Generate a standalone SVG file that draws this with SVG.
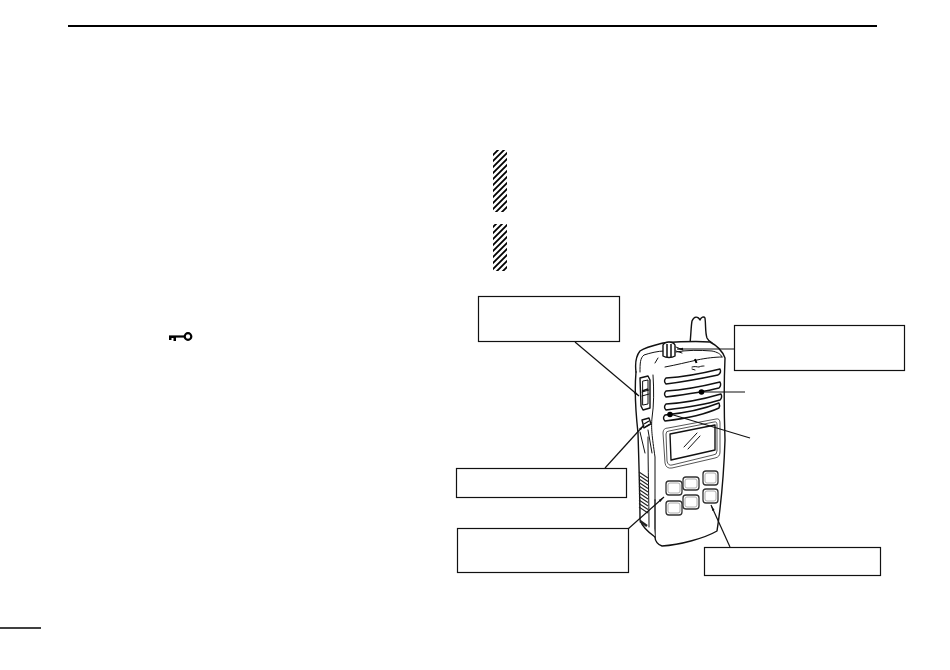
<svg xmlns="http://www.w3.org/2000/svg" width="950" height="670" viewBox="0 0 950 670">
<style>
.box{fill:#fff;stroke:#111;stroke-width:1.2}
.c{fill:none;stroke:#111;stroke-width:1.2}
.a{marker-end:url(#tip)}
.o{fill:#fff;stroke:#111;stroke-width:1.4;stroke-linejoin:round;stroke-linecap:round}
.t{fill:none;stroke:#111;stroke-width:1;stroke-linejoin:round;stroke-linecap:round}
.g{fill:none;stroke:#555;stroke-width:1;stroke-linejoin:round}
.k{fill:#fff;stroke:#333;stroke-width:1.300}
.k2{fill:none;stroke:#999;stroke-width:.8}
</style>
<defs>
<pattern id="hatch" width="6" height="6" patternUnits="userSpaceOnUse">
<path d="M-1.5 1.5L1.5 -1.5M0 6L6 0M4.5 7.5L7.5 4.5" stroke="#000" stroke-width="1.800"/>
</pattern>
<marker id="tip" markerUnits="userSpaceOnUse" markerWidth="7" markerHeight="4" refX="6" refY="2" orient="auto"><path d="M0 .8L6 2L0 3.200Z" fill="#111"/></marker>
</defs>
<rect width="950" height="670" fill="#fff"/>
<path d="M68 26H877" stroke="#000" stroke-width="2"/>
<path d="M0 628H41" stroke="#000" stroke-width="1.5"/>
<rect x="493" y="150" width="14" height="62" fill="url(#hatch)"/>
<rect x="493" y="224" width="14" height="47" fill="url(#hatch)"/>
<g id="key-icon">
<path d="M169 336.5H185" stroke="#000" stroke-width="2.200"/>
<path d="M169 336.5v3.500h2.500v-2h2v3h2.500v-4z" fill="#000"/>
<circle cx="188" cy="336.500" r="3.300" fill="#fff" stroke="#000" stroke-width="2.200"/>
</g>
<g id="radio">
<path class="o" d="M690 343C691 335 691 326 692 321C694 316 698 316 700 320C701 317 704 316 705 318C706 326 705 332 707 338C708 340 710 342 712 343Z"/>
<path class="o" d="M636 372C635 364 636 356 640 351C646 347 655 345 663 343C676 342 695 341 710 342C716 345 722 350 725 358C724 380 724 410 725 440C724 470 721 505 717 531C705 538 680 545 662 546C658 545 655 541 655 537V500"/>
<path class="o" d="M636 372C634 395 636 415 638 433C639 465 640 500 640 520C642 526 648 532 655 537"/>
<path class="t" d="M640 372C640 364 640 358 644 355C650 353 658 351 664 351"/>
<path class="t" d="M665 367C676 365 688 362 697 360C706 358 716 357 722 357M676 352C686 350 700 350 712 351C717 352 721 354 722 357"/>
<path class="t" d="M658 358L655 363"/>
<path class="t" d="M648 437C648 470 649 500 649 527M653 375C654 390 654 405 652 418C651 428 652 436 655 457V500"/>
<path class="t" d="M640 432L645 453M648 430L652 453"/>
<path d="M639 472L648 478M639 475.500L648 481.500M639 479L648 485M639 482.500L648 488.500M639 486L648 492M639 489.500L648 495.500M639 493L648 499M639 496.500L648 502.500M639 500L648 506M639 503.500L648 509.500M639 507L648 513" stroke="#222" stroke-width="1.100"/>
<path d="M640 521L647 526" stroke="#222" stroke-width="2.500"/>
<path class="o" d="M663 345C665 341 673 341 675 345V356C672 358 666 358 663 356Z"/>
<path d="M667 344V357M671 344V357" stroke="#111" stroke-width="1.500"/>
<path class="t" d="M676 347L683 350M676 351L682 353"/>
<path d="M695 359l1.500 4" stroke="#000" stroke-width="2"/>
<path class="t" d="M692 367c3-1 5 0 7 0c2-1 4-1 5-1M692 369l3 1"/>
<g id="grille">
<path class="o" d="M666 378C664 380 664 382 666 384C682 382 704 378 718 375C721 373 721 371 720 369C704 373 684 377 666 378Z"/>
<path class="o" d="M666 391C664 393 664 395 666 397C682 395 704 392 719 388C721 386 721 384 720 382C704 386 684 390 666 391Z"/>
<path class="o" d="M666 404C664 406 664 408 666 410C682 408 704 405 720 400C722 398 722 396 721 394C704 399 684 403 666 404Z"/>
<path class="o" d="M665 415C663 417 663 419 665 421C682 419 704 415 719 408C720 406 720 405 719 403C704 409 684 413 665 415Z"/>
</g>
<path class="g" d="M663 433Q663 428 668 428L716 419Q720 418 720 423V452Q720 457 715 458L672 468Q666 469 665 463Z"/>
<path class="g" d="M666 434Q666 431 669 431L714 422Q717 421 717 425V451Q717 455 713 455L672 465Q668 466 667 461Z"/>
<path class="o" d="M670 434L715 425V450L671 460Z"/>
<path class="t" d="M684 447L697 433M688 449L700 436"/>
<path class="o" d="M640 378L648 376L650 380V408L643 410L641 406Z"/>
<path class="t" d="M643 381L648 380V404L643 405ZM642 392L649 390M642 396L649 394" />
<path d="M642 391L648 389" stroke="#111" stroke-width="1.500"/>
<path class="o" d="M642 420L649 418L651 424L644 428Z"/>
<path d="M644 424L649 421M645 427L650 424" stroke="#111" stroke-width="1.400"/>
<g id="keys">
<rect class="k" x="666" y="481" width="16" height="14" rx="3"/>
<rect class="k" x="683" y="477" width="16" height="13" rx="3"/>
<rect class="k" x="703" y="471" width="15" height="14" rx="3"/>
<rect class="k" x="666" y="501" width="16" height="14" rx="3"/>
<rect class="k" x="683" y="495" width="16" height="14" rx="3"/>
<rect class="k" x="703" y="489" width="15" height="14" rx="3"/>
<rect class="k2" x="668" y="483" width="12" height="10" rx="2"/>
<rect class="k2" x="685" y="479" width="12" height="9" rx="2"/>
<rect class="k2" x="705" y="473" width="11" height="10" rx="2"/>
<rect class="k2" x="668" y="503" width="12" height="10" rx="2"/>
<rect class="k2" x="685" y="497" width="12" height="10" rx="2"/>
<rect class="k2" x="705" y="491" width="11" height="10" rx="2"/>
</g>
</g>
<g id="connectors">
<path class="c a" d="M575 342L639 396"/>
<path class="c a" d="M605 468L644 425"/>
<path class="c a" d="M735 349H677"/>
<path class="c" d="M745 392H702"/>
<path class="c" d="M750 438L670 414"/>
<path class="c a" d="M628 529L664 497"/>
<path class="c a" d="M730 547L711 505"/>
<circle cx="701.500" cy="392" r="2.800" fill="#000"/>
<circle cx="670" cy="414.500" r="2.800" fill="#000"/>
</g>
<g id="node-top-left"><rect class="box" x="478.500" y="296.500" width="141" height="45"/></g>
<g id="node-top-right"><rect class="box" x="734.500" y="325.500" width="170" height="45"/></g>
<g id="node-mid-left"><rect class="box" x="456.500" y="468.500" width="170" height="29"/></g>
<g id="node-low-left"><rect class="box" x="457.500" y="528.500" width="171" height="44"/></g>
<g id="node-low-right"><rect class="box" x="704.500" y="547.500" width="176" height="28"/></g>
</svg>
